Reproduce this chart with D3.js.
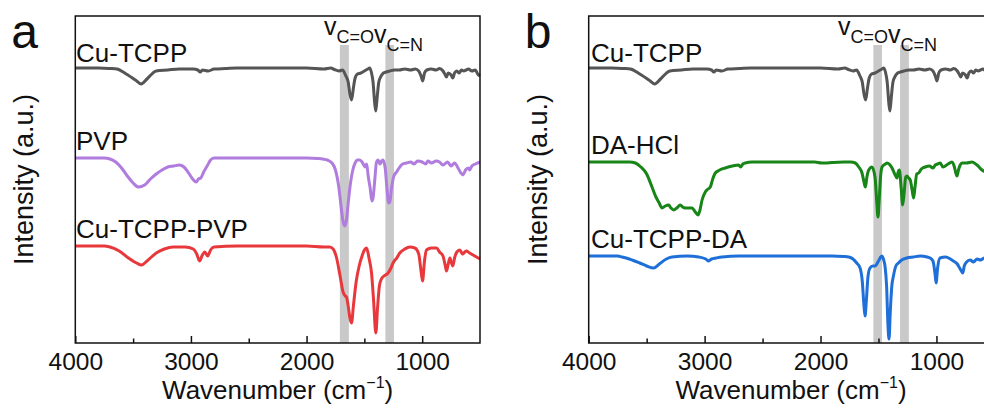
<!DOCTYPE html>
<html>
<head>
<meta charset="utf-8">
<script src="https://cdn.jsdelivr.net/npm/d3@7"></script>
<style>
  html, body { margin: 0; padding: 0; background: #fff; }
  svg { display: block; }
  text { font-family: "Liberation Sans", Arial, Helvetica, sans-serif; fill: #111; }
</style>
</head>
<body>
<svg id="chart" width="984" height="412"></svg>
<script>
// ---------------- DATA ----------------
const xTicksMajor = [4000, 3000, 2000, 1000];
const xTicksMinor = [3500, 2500, 1500];
const xDomain = [4000, 500];
const yDomain = [0, 327];          // arbitrary intensity units
const bandTop = 298;               // top of shaded bands (a.u.)

const panelLetters = ["a", "b"];
const xTitle = "Wavenumber (cm";
const yTitle = "Intensity (a.u.)";

// spectra: [wavenumber, relative intensity] (0 = baseline, negative = absorption)
const cuTCPP = [[4000,0],[3800,0],[3700,-0.5],[3640,-1],[3560,-6],[3480,-12],[3430,-16],[3380,-11],[3300,-3],[3200,-2],[3100,-1],[2980,-1],[2940,-2],[2920,-4],[2900,-2],[2850,-3],[2800,-1],[2700,-0.5],[2600,0],[2400,0],[2200,0],[2000,0],[1850,-1],[1790,0],[1760,-1.5],[1720,-3],[1690,-2],[1660,-8],[1640,-14],[1625,-26],[1611,-32],[1595,-20],[1580,-10],[1560,-6],[1530,-5],[1500,-3],[1470,-1],[1455,0],[1440,-4],[1425,-14],[1410,-36],[1401,-43],[1390,-30],[1375,-14],[1355,-8],[1335,-5],[1310,-4],[1280,-3],[1240,-2],[1200,-2],[1150,-1],[1100,-2],[1060,-1],[1030,-3],[1010,-8],[995,-13],[980,-5],[960,-2],[920,-1],[880,-2],[850,-0.5],[820,-3],[800,-7],[790,-9],[775,-5],[750,-7],[735,-10],[720,-5],[700,-3],[680,-5],[660,-2],[640,-3],[620,-2],[600,-1],[570,-3],[540,-2],[520,-6],[500,-8]];

const pvp = [[4000,0],[3750,0],[3700,-1],[3650,-4],[3600,-10],[3550,-18],[3500,-25],[3455,-29],[3400,-27],[3350,-21],[3300,-16],[3250,-12],[3200,-9],[3150,-8],[3100,-7],[3060,-9],[3020,-15],[2985,-21],[2955,-24],[2935,-21],[2915,-20],[2890,-14],[2860,-8],[2830,-2],[2800,0],[2500,0],[2200,0],[2000,0],[1900,-0.5],[1860,-1],[1820,-2],[1780,-5],[1750,-12],[1720,-30],[1700,-50],[1685,-63],[1669,-68],[1655,-62],[1640,-45],[1620,-25],[1600,-12],[1580,-5],[1560,-2],[1540,-2],[1520,-4],[1500,-8],[1494,-9],[1480,-6],[1467,-18],[1450,-30],[1435,-43],[1425,-40],[1410,-22],[1395,-4],[1381,-2],[1365,-6],[1350,-3],[1340,-2],[1320,-10],[1305,-30],[1290,-45],[1280,-44],[1265,-30],[1245,-18],[1222,-14],[1200,-10],[1170,-6],[1136,-5],[1100,-4],[1070,-6],[1040,-3],[1000,-4],[970,-6],[950,-3],[920,-5],[880,-3],[850,-4],[820,-7],[780,-4],[750,-8],[720,-5],[690,-10],[665,-15],[647,-17],[625,-12],[600,-10],[590,-12],[570,-8],[540,-6],[500,-4]];

const cuTCPP_PVP = [[4000,0],[3750,0],[3700,-1],[3620,-5],[3540,-12],[3470,-17],[3426,-19],[3380,-15],[3300,-7],[3230,-3],[3154,-1],[3050,-1],[2980,-3],[2950,-8],[2925,-15],[2905,-10],[2880,-6],[2855,-10],[2830,-4],[2800,-1],[2600,0],[2400,0],[2200,0],[2000,0],[1850,-1],[1800,-1],[1770,-3],[1740,-12],[1710,-30],[1684,-46],[1665,-50],[1655,-51],[1640,-60],[1625,-72],[1611,-77],[1595,-60],[1570,-35],[1545,-20],[1520,-10],[1500,-4],[1481,-2],[1460,-12],[1438,-27],[1420,-55],[1401,-87],[1385,-60],[1370,-40],[1353,-33],[1330,-30],[1295,-27],[1270,-22],[1252,-17],[1220,-12],[1194,-7],[1150,-3],[1107,-1],[1064,-2],[1030,-8],[1010,-25],[997,-35],[980,-15],[963,-4],[920,-2],[876,-2],[850,-6],[820,-10],[800,-20],[790,-25],[775,-18],[760,-12],[747,-17],[735,-20],[720,-12],[700,-6],[675,-4],[650,-8],[620,-5],[590,-7],[560,-9],[530,-11],[500,-13]];

const daHCl = [[4000,0],[3800,0],[3650,0],[3597,-1],[3550,-5],[3500,-12],[3454,-25],[3420,-35],[3396,-40],[3367,-46],[3340,-44],[3310,-43],[3290,-46],[3267,-48],[3240,-46],[3210,-43],[3190,-45],[3167,-46],[3140,-46],[3109,-46],[3080,-50],[3057,-53],[3040,-48],[3022,-38],[2994,-30],[2970,-27],[2951,-25],[2930,-17],[2908,-11],[2870,-8],[2822,-6],[2760,-4],[2706,-3],[2690,-5],[2670,-2],[2649,-1],[2591,0],[2400,0],[2200,0],[2050,0],[1990,-1],[1960,-1],[1900,-0.5],[1800,0],[1740,0],[1700,-1],[1670,-5],[1642,-11],[1625,-20],[1613,-25],[1600,-15],[1584,-8],[1556,-5],[1530,-15],[1515,-40],[1504,-55],[1495,-40],[1480,-12],[1469,-5],[1440,-2],[1426,-1],[1400,-3],[1383,-6],[1360,-12],[1340,-16],[1330,-10],[1320,-8],[1305,-25],[1291,-43],[1278,-30],[1265,-15],[1254,-14],[1240,-16],[1226,-18],[1210,-28],[1197,-36],[1185,-25],[1170,-12],[1154,-11],[1130,-7],[1097,-5],[1060,-4],[1030,-6],[1010,-3],[990,-2],[967,-1],[945,-5],[924,-4],[900,-2],[866,0],[845,-5],[835,-10],[823,-14],[810,-8],[795,-3],[779,-1],[740,-1],[693,0],[650,-3],[607,-8],[580,-10],[550,-12],[500,-14]];

const cuTCPP_DA = [[4000,0],[3750,0],[3713,-1],[3650,-3],[3560,-7],[3500,-10],[3439,-12],[3390,-8],[3330,-3],[3281,-1],[3150,0],[3050,-1],[2990,-3],[2965,-5],[2940,-3],[2900,-2],[2850,-1],[2700,0],[2400,0],[2100,0],[1900,0],[1800,-0.5],[1757,-1],[1720,-3],[1688,-7],[1659,-12],[1640,-25],[1625,-50],[1616,-60],[1605,-45],[1590,-20],[1573,-12],[1550,-10],[1530,-10],[1500,-5],[1472,0],[1455,-4],[1444,-10],[1430,-30],[1418,-70],[1409,-83],[1398,-55],[1385,-30],[1371,-20],[1350,-10],[1328,-7],[1300,-4],[1256,-2],[1200,-1],[1141,0],[1080,-1],[1055,-2],[1030,-5],[1010,-20],[1003,-27],[990,-12],[969,-2],[920,-1],[880,-3],[854,-5],[820,-8],[800,-12],[785,-15],[773,-17],[760,-10],[740,-6],[710,-4],[680,-6],[650,-3],[620,-4],[586,-2],[540,-3],[500,-2]];

// series per panel
const namesA   = ["Cu-TCPP", "PVP", "Cu-TCPP-PVP"];
const offsetsA = [275, 185, 97];
const colorsA  = ["#555555", "#b07cde", "#e8383c"];
const spectraA = [cuTCPP, pvp, cuTCPP_PVP];
const bandsA   = [[1712, 1634], [1318, 1244]];

const namesB   = ["Cu-TCPP", "DA-HCl", "Cu-TCPP-DA"];
const offsetsB = [275, 181, 87];
const colorsB  = ["#555555", "#178517", "#1f6fd8"];
const spectraB = [cuTCPP, daHCl, cuTCPP_DA];
const bandsB   = [[1544, 1470], [1314, 1238]];

const bandLabels = [["v", "C=O"], ["v", "C=N"]];

// ---------------- DRAW ----------------
const svg = d3.select("#chart");
const FONT = 26;

function drawPanel(opts) {
  const { left, right, top, bottom, letter, names, offsets, colors, spectra, bands, labelX, bandLabelX } = opts;
  const x = d3.scaleLinear().domain(xDomain).range([left, right]);
  const y = d3.scaleLinear().domain(yDomain).range([bottom, top]);
  const g = svg.append("g");

  // bands
  g.selectAll("rect.band").data(bands).join("rect")
    .attr("x", d => x(d[0]))
    .attr("width", d => x(d[1]) - x(d[0]))
    .attr("y", y(bandTop))
    .attr("height", y(0) - y(bandTop))
    .attr("fill", "#c9c9c9");

  // spectra
  const line = d3.line().x(d => x(d[0])).y(d => y(d[1])).curve(d3.curveMonotoneX);
  spectra.forEach((s, i) => {
    g.append("path")
      .datum(s.map(p => [p[0], p[1] + offsets[i]]))
      .attr("d", line)
      .attr("fill", "none")
      .attr("stroke", colors[i])
      .attr("stroke-width", 3)
      .attr("stroke-linejoin", "round");
  });

  // frame
  g.append("rect").attr("x", left).attr("y", top)
    .attr("width", right - left).attr("height", bottom - top)
    .attr("fill", "none").attr("stroke", "#111").attr("stroke-width", 1.5);

  // bottom axis (ticks inward)
  const ax = g.append("g").attr("transform", `translate(0,${bottom})`)
    .call(d3.axisBottom(x).tickValues(xTicksMajor).tickSize(-7).tickPadding(9.5).tickFormat(d3.format("d")));
  ax.select(".domain").remove();
  ax.selectAll("line").attr("stroke", "#111").attr("stroke-width", 1.5);
  ax.selectAll("text").attr("font-size", 24.5).attr("fill", "#111")
    .style("font-family", '"Liberation Sans", Arial, sans-serif');
  const axm = g.append("g").attr("transform", `translate(0,${bottom})`)
    .call(d3.axisBottom(x).tickValues(xTicksMinor).tickSize(-4.5).tickFormat(""));
  axm.select(".domain").remove();
  axm.selectAll("line").attr("stroke", "#111").attr("stroke-width", 1.5);

  // x title
  const xt = g.append("text")
    .attr("x", left + (480 - 75.3) / 2)
    .attr("y", 399).attr("font-size", 26).attr("text-anchor", "middle");
  xt.append("tspan").text(xTitle);
  xt.append("tspan").attr("font-size", 16).attr("dy", -11).text("\u22121");
  xt.append("tspan").attr("dy", 11).text(")");

  // y title
  g.append("text")
    .attr("transform", `translate(${left - 42},${(top + bottom) / 2}) rotate(-90)`)
    .attr("text-anchor", "middle").attr("font-size", FONT + 1).text(yTitle);

  // panel letter
  g.append("text").attr("x", left - 64).attr("y", 48).attr("font-size", 48).text(letter);

  // series labels
  names.forEach((n, i) => {
    g.append("text").attr("x", labelX).attr("y", y(offsets[i]) + (i === 0 ? -6 : -8.5))
      .attr("font-size", FONT).text(n);
  });

  // band label
  const bl = g.append("text").attr("x", bandLabelX).attr("y", 35).attr("font-size", 25);
  bandLabels.forEach(([v, sub]) => {
    bl.append("tspan").attr("font-size", 25).attr("dy", 0).text(v);
    bl.append("tspan").attr("font-size", 18).attr("dy", 8).text(sub);
    bl.append("tspan").attr("font-size", 1).attr("dy", -8).text("");
  });
}

drawPanel({ left: 75.3, right: 480, top: 16, bottom: 343, letter: panelLetters[0],
  names: namesA, offsets: offsetsA, colors: colorsA, spectra: spectraA, bands: bandsA,
  labelX: 76, bandLabelX: 324 });
drawPanel({ left: 588.7, right: 994.4, top: 16, bottom: 343, letter: panelLetters[1],
  names: namesB, offsets: offsetsB, colors: colorsB, spectra: spectraB, bands: bandsB,
  labelX: 591, bandLabelX: 838 });
</script>
</body>
</html>
